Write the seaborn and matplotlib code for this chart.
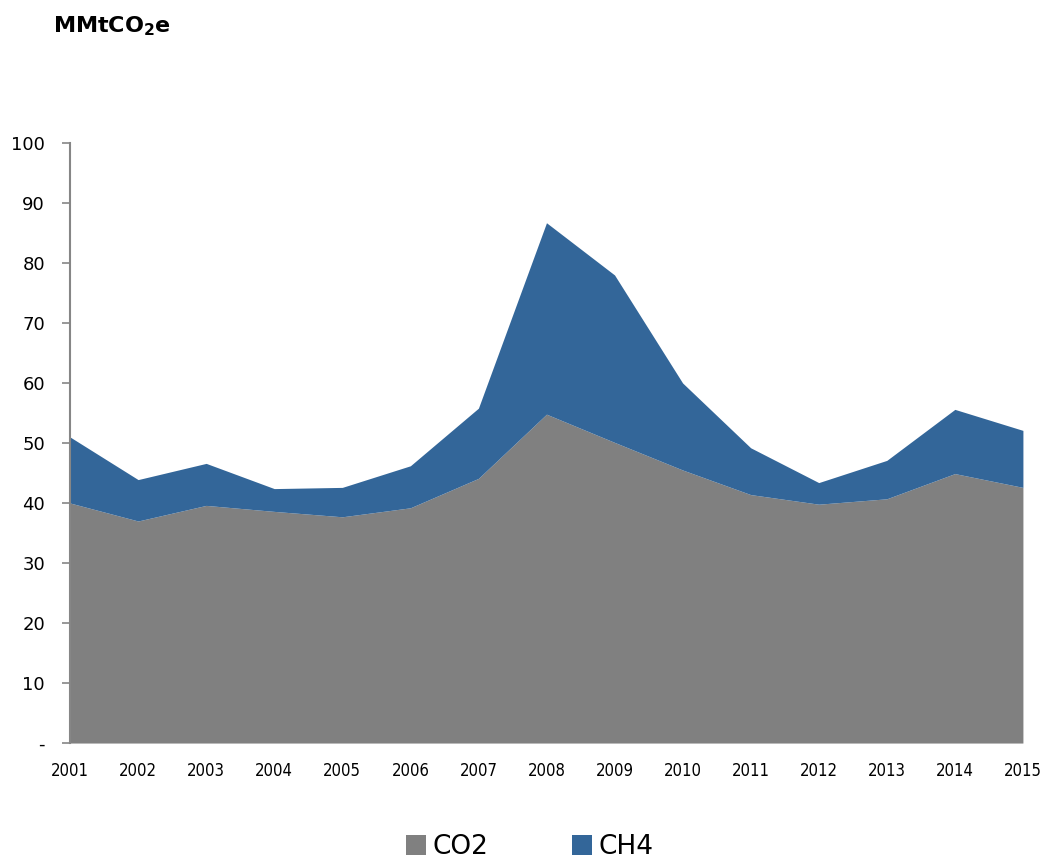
import matplotlib
matplotlib.use("Agg")
import matplotlib.pyplot as plt
import seaborn as sns
import numpy as np
import pandas as pd

sns.set_style("white")
plt.rcParams['font.family'] = ['DejaVu Sans']
plt.rcParams['mathtext.default'] = 'bf'
plt.rcParams['text.color'] = 'black'
plt.rcParams['xtick.color'] = 'black'
plt.rcParams['ytick.color'] = 'black'

# data
years = [2001, 2002, 2003, 2004, 2005, 2006, 2007, 2008,
         2009, 2010, 2011, 2012, 2013, 2014, 2015]
co2 = [40.0, 37.0, 39.6, 38.6, 37.7, 39.2, 44.1, 54.8,
       50.1, 45.5, 41.4, 39.8, 40.7, 44.9, 42.6]
ch4 = [11.0, 6.9, 7.0, 3.8, 4.9, 7.0, 11.7, 31.9,
       27.9, 14.5, 7.8, 3.6, 6.4, 10.7, 9.5]
series_names = ["CO2", "CH4"]
y_ticks = [0, 10, 20, 30, 40, 50, 60, 70, 80, 90, 100]
y_tick_labels = ["-", "10", "20", "30", "40", "50", "60", "70", "80", "90", "100"]

df = pd.DataFrame({"year": years, "CO2": co2, "CH4": ch4})
colors = ["#808080", "#336699"]

fig = plt.figure(figsize=(10.47, 8.61), dpi=100)
ax = fig.add_axes([0.0669, 0.137, 0.9101, 0.697])

ax.stackplot(df["year"], df["CO2"], df["CH4"], colors=colors,
             labels=series_names, linewidth=0)

ax.set_xlim(years[0], years[-1])
ax.set_ylim(0, 100)
ax.set_xticks(years)
ax.set_xticklabels([str(y) for y in years], fontsize=12, stretch='condensed')
ax.set_yticks(y_ticks)
ax.set_yticklabels(y_tick_labels, fontsize=13)

ax.tick_params(axis='x', length=0, pad=14)
ax.tick_params(axis='y', left=True, length=6, width=1.2, color="#868686",
               labelcolor='black', direction='out', pad=12)

sns.despine(ax=ax, top=True, right=True, bottom=True)
ax.spines['left'].set_color("#868686")
ax.spines['left'].set_linewidth(1.5)

fig.text(0.051, 0.97, r'MMtCO$_2$e', fontsize=16, fontweight='bold',
         va='center', ha='left', color='black')

leg = fig.legend(loc='center', bbox_to_anchor=(0.506, 0.016), ncol=2,
                 frameon=False, fontsize=19, handlelength=0.75, handleheight=0.75,
                 handletextpad=0.25, columnspacing=3.2)
for t in leg.get_texts():
    t.set_color('black')

plt.savefig("out.png", dpi=100)
